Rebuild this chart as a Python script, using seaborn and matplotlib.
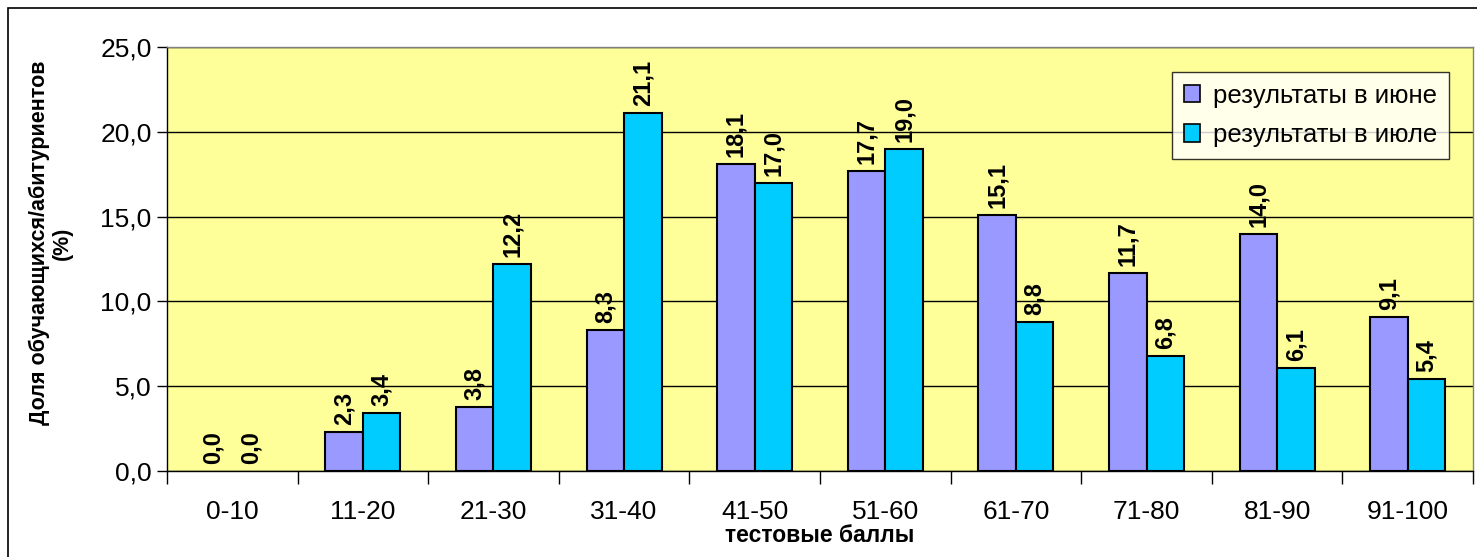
import pandas as pd
import matplotlib
matplotlib.use("Agg")
import matplotlib.pyplot as plt
import seaborn as sns
from matplotlib.patches import Rectangle

# данные с графика
categories = ["0-10", "11-20", "21-30", "31-40", "41-50", "51-60", "61-70", "71-80", "81-90", "91-100"]
june = [0.0, 2.3, 3.8, 8.3, 18.1, 17.7, 15.1, 11.7, 14.0, 9.1]
july = [0.0, 3.4, 12.2, 21.1, 17.0, 19.0, 8.8, 6.8, 6.1, 5.4]
series_names = ["результаты в июне", "результаты в июле"]
colors = ["#9999FF", "#00CCFF"]

df = pd.DataFrame({
    "cat": categories * 2,
    "val": june + july,
    "series": [series_names[0]] * len(june) + [series_names[1]] * len(july),
})

sns.set_style("white")
plt.rcParams['font.family'] = ['Liberation Sans', 'DejaVu Sans']
plt.rcParams.update({"text.color": "black", "axes.labelcolor": "black",
                     "xtick.color": "black", "ytick.color": "black"})

fig = plt.figure(figsize=(14.77, 5.57), dpi=100)
ax = fig.add_axes([167 / 1477, 1 - 471 / 557, (1473 - 167) / 1477, (471 - 47) / 557])

sns.barplot(data=df, x="cat", y="val", hue="series", order=categories,
            hue_order=series_names, palette=colors, saturation=1, width=0.575, gap=0,
            edgecolor="black", linewidth=1.5, ax=ax, legend=True)

# нулевые столбцы не видны
for p in ax.patches:
    if p.get_height() == 0:
        p.set_linewidth(0)

ax.set_facecolor("#FFFF99")
ax.set_ylim(0, 25)
ax.set_xlim(-0.5, len(categories) - 0.5)
ax.set_yticks([0, 5, 10, 15, 20, 25])
ax.set_yticklabels([f"{v:.1f}".replace(".", ",") for v in [0, 5, 10, 15, 20, 25]], fontsize=19)
ax.yaxis.grid(True, color="black", linewidth=1)
ax.set_axisbelow(True)

# деления по границам категорий
ax.set_xticks(range(len(categories)))
ax.set_xticklabels(categories, fontsize=19)
ax.set_xticks([i - 0.5 for i in range(len(categories) + 1)], minor=True)
ax.tick_params(axis="x", which="major", length=0, pad=21)
ax.tick_params(axis="x", which="minor", length=9, width=1, color="black", direction="out", bottom=True)
ax.tick_params(axis="y", length=7, width=1, color="black", direction="out", left=True, pad=4)

for side in ["left", "bottom"]:
    ax.spines[side].set_color("black")
    ax.spines[side].set_linewidth(1)
for side in ["top", "right"]:
    ax.spines[side].set_color("#808080")
    ax.spines[side].set_linewidth(1)

# подписи значений
for cont in ax.containers:
    ax.bar_label(cont, labels=[f"{v:.1f}".replace(".", ",") for v in cont.datavalues],
                 rotation=90, padding=5, fontsize=17, fontweight="bold")

ax.set_xlabel("тестовые баллы", fontsize=16.5, fontweight="bold", labelpad=0)
ax.set_ylabel("Доля обучающихся/абитуриентов\n(%)", fontsize=15.5, fontweight="bold",
              labelpad=20, linespacing=1.1)
ax.yaxis.label.set_y((471 - 243) / (471 - 47))

anchor = ((1449 - 167) / (1473 - 167), 1 - (72 - 47) / (471 - 47))
leg = ax.legend(loc="upper right", bbox_to_anchor=anchor,
                fontsize=18.5, frameon=True, fancybox=False, edgecolor="black",
                handlelength=0.65, handleheight=0.65, handletextpad=0.5, borderpad=0.45,
                labelspacing=0.6, borderaxespad=0)
leg.get_frame().set_linewidth(1)
for h in leg.legend_handles:
    h.set_edgecolor("black")
    h.set_linewidth(1.2)

# внешняя рамка
fig.patches.append(Rectangle((8 / 1477, -0.1), 1.2, 1 - 8 / 557 + 0.1, transform=fig.transFigure,
                             fill=False, edgecolor="black", linewidth=1.2))

fig.savefig("out.png", dpi=100, facecolor="white")
